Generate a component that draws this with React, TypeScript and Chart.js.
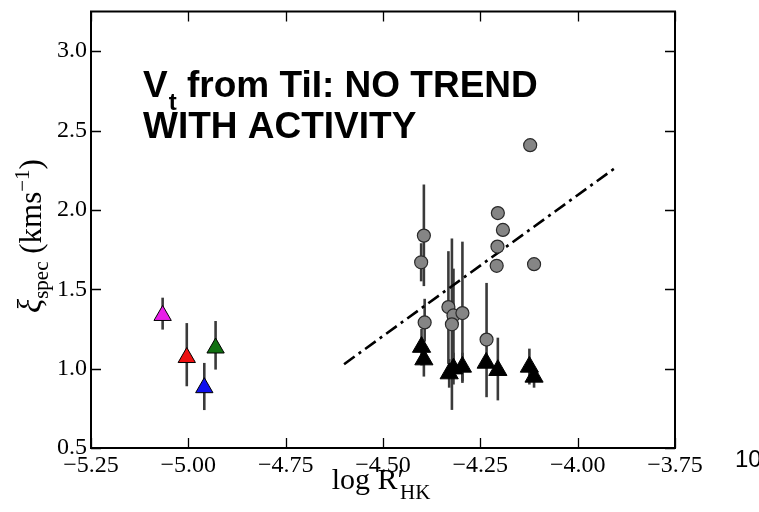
import React, { useEffect, useRef } from "react";
import { Chart, registerables } from "chart.js";

Chart.register(...registerables);

// ---- axis ticks ----
const xTicks = [-5.25, -5.0, -4.75, -4.5, -4.25, -4.0, -3.75];
const yTicks = [0.5, 1.0, 1.5, 2.0, 2.5, 3.0];

// ---- coloured triangles (low-activity stars) ----
const colorX = [-5.066, -5.004, -4.959, -4.93];
const colorY = [1.335, 1.07, 0.88, 1.13];
const colorLo = [1.246, 0.889, 0.739, 0.994];
const colorHi = [1.447, 1.287, 1.036, 1.3];
const colorFill = ["#e81ee8", "#ee1010", "#1010ee", "#107010"];

// ---- grey circles ----
const circX = [-4.122, -4.205, -4.192, -4.206, -4.208, -4.112, -4.395, -4.402, -4.393, -4.332, -4.319, -4.323, -4.296, -4.234];
const circY = [2.408, 1.98, 1.874, 1.769, 1.648, 1.658, 1.838, 1.67, 1.291, 1.388, 1.335, 1.279, 1.35, 1.183];
const circLo = [null, null, null, null, null, null, 1.52, 1.55, 1.17, 1.03, 1.05, 0.74, 0.91, 0.82];
const circHi = [null, null, null, null, null, null, 2.16, 1.79, 1.44, 1.74, 1.63, 1.82, 1.8, 1.54];

// ---- black triangles ----
const triX = [-4.401, -4.395, -4.33, -4.319, -4.296, -4.235, -4.205, -4.124, -4.112];
const triY = [1.136, 1.057, 0.969, 1.0, 1.011, 1.036, 0.99, 1.011, 0.948];
const triLo = [1.02, 0.95, 0.88, 0.9, 0.92, null, 0.8, 0.9, 0.88];
const triHi = [1.25, 1.16, 1.06, 1.1, 1.1, null, 1.195, 1.126, 1.0];

// ---- dash-dot trend line ----
const fitX = [-4.6, -3.9];
const fitY = [1.028, 2.271];

const SERIF = "'Liberation Serif', 'Times New Roman', serif";
const SANS = "'Liberation Sans', Arial, sans-serif";

const fmtMinus = (s: string) => s.replace("-", "\u2212");

const errorBarPlugin = {
  id: "errorBars",
  beforeDatasetsDraw(chart: any) {
    const { ctx } = chart;
    const xs = chart.scales.x;
    const ys = chart.scales.y;
    const groups = [
      { x: colorX, lo: colorLo, hi: colorHi },
      { x: circX, lo: circLo, hi: circHi },
      { x: triX, lo: triLo, hi: triHi },
    ];
    ctx.save();
    ctx.strokeStyle = "#3a3a3a";
    ctx.lineWidth = 2.6;
    ctx.lineCap = "butt";
    for (const g of groups) {
      for (let i = 0; i < g.x.length; i++) {
        const lo = g.lo[i];
        const hi = g.hi[i];
        if (lo == null || hi == null) continue;
        const px = xs.getPixelForValue(g.x[i]);
        ctx.beginPath();
        ctx.moveTo(px, ys.getPixelForValue(lo));
        ctx.lineTo(px, ys.getPixelForValue(hi));
        ctx.stroke();
      }
    }
    ctx.restore();
  },
};

const framePlugin = {
  id: "frameTicksText",
  afterDraw(chart: any) {
    const { ctx, chartArea } = chart;
    const { left, right, top, bottom } = chartArea;
    const xs = chart.scales.x;
    const ys = chart.scales.y;
    ctx.save();
    // frame
    ctx.strokeStyle = "#000";
    ctx.lineWidth = 2;
    ctx.strokeRect(left, top, right - left, bottom - top);
    // inward ticks
    ctx.lineWidth = 1.3;
    const tl = 10;
    ctx.beginPath();
    for (const v of xTicks) {
      const px = Math.round(xs.getPixelForValue(v)) + 0.5;
      ctx.moveTo(px, bottom);
      ctx.lineTo(px, bottom - tl);
      ctx.moveTo(px, top);
      ctx.lineTo(px, top + tl);
    }
    for (const v of yTicks) {
      const py = Math.round(ys.getPixelForValue(v)) + 0.5;
      ctx.moveTo(left, py);
      ctx.lineTo(left + tl, py);
      ctx.moveTo(right, py);
      ctx.lineTo(right - tl, py);
    }
    ctx.stroke();

    // annotation title
    ctx.fillStyle = "#000";
    ctx.textBaseline = "alphabetic";
    ctx.textAlign = "left";
    const big = `bold 37px ${SANS}`;
    const small = `bold 24px ${SANS}`;
    let x = 143;
    ctx.font = big;
    ctx.fillText("V", x, 97);
    x += ctx.measureText("V").width + 1;
    ctx.font = small;
    ctx.fillText("t", x, 110);
    x += ctx.measureText("t").width;
    ctx.font = big;
    ctx.fillText(" from TiI: NO TREND", x, 97);
    ctx.fillText("WITH ACTIVITY", 143, 138);

    // stray "10" page number
    ctx.font = `24px ${SANS}`;
    ctx.fillText("10", 735, 467);

    // x-axis title: log R'_HK
    const mainF = `30px ${SERIF}`;
    const subF = `21px ${SERIF}`;
    ctx.font = mainF;
    const w1 = ctx.measureText("log R\u2032").width;
    ctx.font = subF;
    const w2 = ctx.measureText("HK").width;
    let sx = (left + right) / 2 - (w1 + w2) / 2;
    ctx.font = mainF;
    ctx.fillText("log R\u2032", sx, 489);
    ctx.font = subF;
    ctx.fillText("HK", sx + w1 - 4, 499);

    // y-axis title: xi_spec (kms^-1)
    ctx.translate(41, 236);
    ctx.rotate(-Math.PI / 2);
    const yMain = `31px ${SERIF}`;
    const parts: [string, string, number][] = [
      ["\u03be", `italic 33px ${SERIF}`, 0],
      ["spec", `21px ${SERIF}`, 7],
      [" (kms", yMain, 0],
      ["\u22121", `21px ${SERIF}`, -12],
      [")", yMain, 0],
    ];
    let total = 0;
    for (const p of parts) {
      ctx.font = p[1];
      total += ctx.measureText(p[0]).width;
    }
    let u = -total / 2;
    for (const p of parts) {
      ctx.font = p[1];
      ctx.fillText(p[0], u, p[2]);
      u += ctx.measureText(p[0]).width;
    }
    ctx.restore();
  },
};

export default function App() {
  const ref = useRef<HTMLCanvasElement | null>(null);

  useEffect(() => {
    if (!ref.current) return;
    const chart = new Chart(ref.current, {
      type: "scatter",
      data: {
        datasets: [
          {
            label: "colored",
            data: colorX.map((x, i) => ({ x, y: colorY[i] })),
            pointStyle: "triangle",
            pointRadius: 10,
            backgroundColor: colorFill,
            borderColor: "#000",
            borderWidth: 1,
          },
          {
            label: "triangles",
            data: triX.map((x, i) => ({ x, y: triY[i] })),
            pointStyle: "triangle",
            pointRadius: 10.5,
            backgroundColor: "#000",
            borderColor: "#000",
            borderWidth: 1,
          },
          {
            label: "circles",
            data: circX.map((x, i) => ({ x, y: circY[i] })),
            pointStyle: "circle",
            pointRadius: 6.5,
            backgroundColor: "#858585",
            borderColor: "#2a2a2a",
            borderWidth: 1.2,
          },
          {
            label: "fit",
            data: fitX.map((x, i) => ({ x, y: fitY[i] })),
            showLine: true,
            borderColor: "#000",
            borderWidth: 2.6,
            borderDash: [13, 5, 3, 5],
            pointRadius: 0,
            fill: false,
          } as any,
        ],
      },
      options: {
        responsive: false,
        animation: false,
        devicePixelRatio: 1,
        layout: { padding: { left: 0, right: 84, top: 11, bottom: 0 } },
        plugins: {
          legend: { display: false },
          tooltip: { enabled: false },
        },
        scales: {
          x: {
            type: "linear",
            min: -5.25,
            max: -3.75,
            grid: { display: false, drawTicks: false },
            border: { display: false },
            afterBuildTicks: (s: any) => {
              s.ticks = xTicks.map((v) => ({ value: v }));
            },
            afterFit: (s: any) => {
              s.height = 64;
              s.paddingLeft = 0;
              s.paddingRight = 0;
              s.paddingTop = 0;
              s.paddingBottom = 0;
            },
            ticks: {
              autoSkip: false,
              maxRotation: 0,
              padding: 3,
              color: "#000",
              font: { family: SERIF, size: 24 },
              callback: (v: any) => fmtMinus(Number(v).toFixed(2)),
            },
          },
          y: {
            type: "linear",
            min: 0.5,
            max: 3.25,
            grid: { display: false, drawTicks: false },
            border: { display: false },
            afterBuildTicks: (s: any) => {
              s.ticks = yTicks.map((v) => ({ value: v }));
            },
            afterFit: (s: any) => {
              s.width = 91;
              s.paddingLeft = 0;
              s.paddingRight = 0;
              s.paddingTop = 0;
              s.paddingBottom = 0;
            },
            ticks: {
              autoSkip: false,
              padding: 4,
              color: "#000",
              font: { family: SERIF, size: 24 },
              callback: (v: any) => Number(v).toFixed(1),
            },
          },
        },
      },
      plugins: [errorBarPlugin, framePlugin],
    } as any);
    return () => chart.destroy();
  }, []);

  return (
    <div style={{ position: "absolute", left: 0, top: 0, width: 759, height: 512, background: "#fff" }}>
      <canvas ref={ref} width={759} height={512} style={{ display: "block" }} />
    </div>
  );
}
